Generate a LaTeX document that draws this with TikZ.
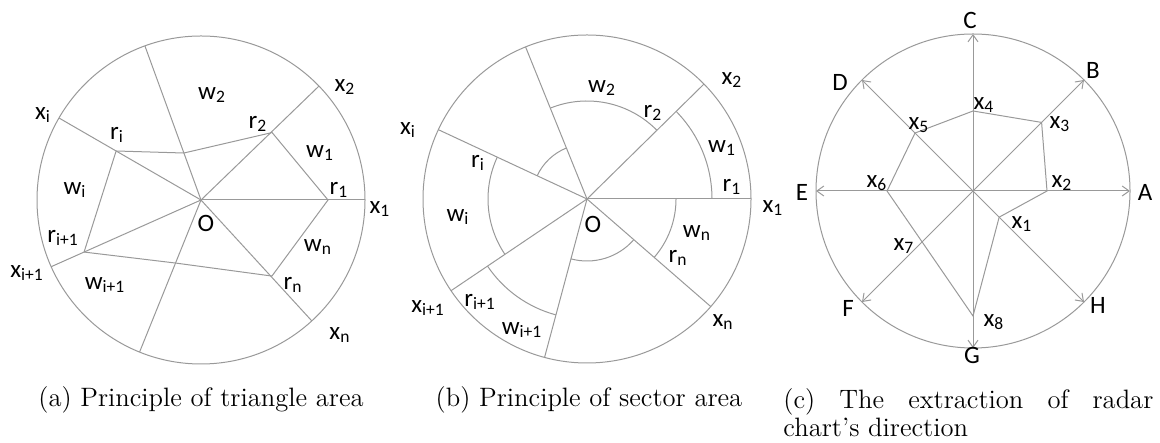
\documentclass[tikz,border=0pt]{standalone}
\usepackage{fontspec}
\usetikzlibrary{arrows.meta}
\newfontfamily\labfont{Carlito}
\newcommand{\sublab}[2]{#1\textsubscript{#2}}
\begin{document}
\begin{tikzpicture}[x=0.5pt, y=0.5pt,
  line/.style={draw=gray!80, line width=0.5pt},
  axis/.style={line, -{Straight Barb[length=3.5pt, width=5pt]}},
  lab/.style={font=\labfont\fontsize{12.5}{14}\selectfont, inner sep=0pt},
  capt/.style={font=\fontsize{13.3}{14}\selectfont, inner sep=0pt}]

\useasboundingbox (0,0) rectangle (1160,443);

% (a) Triangle area

\begin{scope}[shift={(201,243)}]
\coordinate (Oa) at (0,0);
\coordinate (ax1) at (0:164);
\coordinate (ax2) at (44:164);
\coordinate (atop) at (110:164);
\coordinate (axi) at (150:164);
\coordinate (axj) at (204:164);
\coordinate (abot) at (248:164);
\coordinate (axn) at (312.5:164);
\coordinate (ar1) at (0:127);
\coordinate (ar2) at (43.5:98);
\coordinate (ak1) at (110:50);
\coordinate (ari) at (150:98);
\coordinate (arj) at (204:128);
\coordinate (ak2) at (248:68);
\coordinate (arn) at (313:104);

\draw[line] (Oa) circle (164);
\foreach \p in {ax1,ax2,atop,axi,axj,abot,axn}
  \draw[line] (Oa) -- (\p);
\draw[line] (ar1) -- (ar2) -- (ak1) -- (ari) -- (arj) -- (ak2) -- (arn) -- cycle;
\end{scope}

\node[lab] (la-x2) at (345,356) {\sublab{x}{2}};
\node[lab] (la-w2) at (212,348) {\sublab{w}{2}};
\node[lab] (la-xi) at (43,328) {\sublab{x}{i}};
\node[lab] (la-ri) at (117,308) {\sublab{r}{i}};
\node[lab] (la-r2) at (258,319) {\sublab{r}{2}};
\node[lab] (la-w1) at (320,290) {\sublab{w}{1}};
\node[lab] (la-wi) at (75,253) {\sublab{w}{i}};
\node[lab] (la-r1) at (339,253) {\sublab{r}{1}};
\node[lab] (la-x1) at (380,234) {\sublab{x}{1}};
\node[lab] (la-O) at (206,220) {O};
\node[lab] (la-rj) at (63,205) {\sublab{r}{i+1}};
\node[lab] (la-wn) at (318,196) {\sublab{w}{n}};
\node[lab] (la-xj) at (27,170) {\sublab{x}{i+1}};
\node[lab] (la-wj) at (105,158) {\sublab{w}{i+1}};
\node[lab] (la-rn) at (293,158) {\sublab{r}{n}};
\node[lab] (la-xn) at (340,108) {\sublab{x}{n}};

% (b) Sector area

\begin{scope}[shift={(587,244)}]
\coordinate (Ob) at (0,0);
\coordinate (bx1) at (0:164);
\coordinate (bx2) at (44.5:164);
\coordinate (btop) at (112:164);
\coordinate (bxi) at (155:164);
\coordinate (bxj) at (214:164);
\coordinate (bbot) at (255:164);
\coordinate (bxn) at (319:164);

\draw[line] (Ob) circle (164);
\foreach \p in {bx1,bx2,btop,bxi,bxj,bbot,bxn}
  \draw[line] (Ob) -- (\p);
\foreach \a/\b/\r in {0/44.5/125, 44.5/112/98, 112/155/55, 155/214/99,
                      214/255/120, 255/319/62, 319/360/89}
  \draw[line] (\a:\r) arc[start angle=\a, end angle=\b, radius=\r];
\end{scope}

\node[lab] (lb-x2) at (732,363) {\sublab{x}{2}};
\node[lab] (lb-w2) at (602,355) {\sublab{w}{2}};
\node[lab] (lb-r2) at (653,330) {\sublab{r}{2}};
\node[lab] (lb-xi) at (408,313) {\sublab{x}{i}};
\node[lab] (lb-w1) at (722,295) {\sublab{w}{1}};
\node[lab] (lb-ri) at (478,280) {\sublab{r}{i}};
\node[lab] (lb-r1) at (732,256) {\sublab{r}{1}};
\node[lab] (lb-x1) at (773,235) {\sublab{x}{1}};
\node[lab] (lb-wi) at (458,226) {\sublab{w}{i}};
\node[lab] (lb-O) at (593,219) {O};
\node[lab] (lb-wn) at (697,210) {\sublab{w}{n}};
\node[lab] (lb-rn) at (678,185) {\sublab{r}{n}};
\node[lab] (lb-xj) at (428,135) {\sublab{x}{i+1}};
\node[lab] (lb-rj) at (480,141) {\sublab{r}{i+1}};
\node[lab] (lb-wj) at (522,113) {\sublab{w}{i+1}};
\node[lab] (lb-xn) at (723,121) {\sublab{x}{n}};

% (c) Radar chart

\begin{scope}[shift={(973,252)}]
\coordinate (Oc) at (0,0);
\draw[line] (Oc) circle (157);
\foreach \ang/\nm in {0/A,45/B,90/C,135/D,180/E,225/F,270/G,315/H} {
  \coordinate (c\nm) at (\ang:157);
  \draw[axis] (Oc) -- (c\nm);
}
\coordinate (cx1) at (315:37);
\coordinate (cx2) at (0:74);
\coordinate (cx3) at (45:97);
\coordinate (cx4) at (90:80);
\coordinate (cx5) at (135:82);
\coordinate (cx6) at (180:86);
\coordinate (cx7) at (225:72);
\coordinate (cx8) at (270:125);
\draw[line] (cx1) -- (cx2) -- (cx3) -- (cx4) -- (cx5) -- (cx6) -- (cx7) -- (cx8) -- cycle;
\end{scope}

\node[lab] (lc-C) at (970,423) {C};
\node[lab] (lc-B) at (1093,373) {B};
\node[lab] (lc-D) at (840,361) {D};
\node[lab] (lc-x4) at (984,338) {\sublab{x}{4}};
\node[lab] (lc-x3) at (1060,319) {\sublab{x}{3}};
\node[lab] (lc-x5) at (919,318) {\sublab{x}{5}};
\node[lab] (lc-E) at (802,251) {E};
\node[lab] (lc-x6) at (877,260) {\sublab{x}{6}};
\node[lab] (lc-x2) at (1062,260) {\sublab{x}{2}};
\node[lab] (lc-A) at (1145,251) {A};
\node[lab] (lc-x1) at (1022,219) {\sublab{x}{1}};
\node[lab] (lc-x7) at (904,197) {\sublab{x}{7}};
\node[lab] (lc-F) at (848,135) {F};
\node[lab] (lc-H) at (1098,138) {H};
\node[lab] (lc-x8) at (994,121) {\sublab{x}{8}};
\node[lab] (lc-G) at (972,88) {G};

% Captions

\node[capt] (cap-a) at (201,43) {(a) Principle of triangle area};
\node[capt] (cap-b) at (589,43) {(b) Principle of sector area};
\node[capt, anchor=north west, text width=185pt, align=justify] (cap-c) at (783,55)
  {(c) The extraction of radar\linebreak chart's direction};

\end{tikzpicture}
\end{document}
